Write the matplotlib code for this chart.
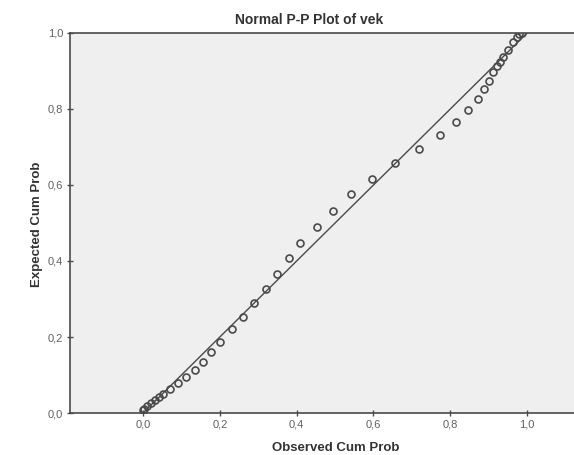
import matplotlib.pyplot as plt
from matplotlib.ticker import FuncFormatter

plt.rcParams['font.family'] = ['Liberation Sans', 'DejaVu Sans']

# Observed vs expected cumulative probabilities
observed = [0.000, 0.003, 0.010, 0.021, 0.031, 0.042, 0.052, 0.070, 0.091,
            0.112, 0.135, 0.156, 0.177, 0.201, 0.232, 0.260, 0.289, 0.320,
            0.349, 0.380, 0.409, 0.453, 0.495, 0.542, 0.596, 0.656, 0.719,
            0.773, 0.815, 0.846, 0.872, 0.888, 0.901, 0.911, 0.922, 0.930,
            0.938, 0.951, 0.964, 0.974, 0.980, 0.987]
expected = [0.008, 0.011, 0.018, 0.026, 0.034, 0.042, 0.050, 0.063, 0.079,
            0.095, 0.113, 0.134, 0.160, 0.187, 0.221, 0.253, 0.289, 0.326,
            0.366, 0.408, 0.447, 0.489, 0.532, 0.576, 0.616, 0.658, 0.695,
            0.732, 0.766, 0.797, 0.826, 0.853, 0.874, 0.897, 0.913, 0.924,
            0.937, 0.955, 0.976, 0.990, 0.997, 1.000]
ticks = [0.0, 0.2, 0.4, 0.6, 0.8, 1.0]

fig = plt.figure(figsize=(5.74, 4.55), dpi=100, facecolor='white')
ax = fig.add_axes([0.122, 0.0923, 0.878, 0.8352])
ax.set_facecolor('#efefef')

gray = '#4a4a4a'

# reference diagonal
ax.plot([0, 1], [0, 1], color=gray, linewidth=1.0, zorder=2)
ax.plot(observed, expected, linestyle='none', marker='o', markersize=5,
        markerfacecolor='none', markeredgecolor=gray, markeredgewidth=1.2,
        zorder=3)

ax.set_xlim(-0.19, 1.122)
ax.set_ylim(0, 1.0)
ax.set_xticks(ticks)
ax.set_yticks(ticks)
comma = FuncFormatter(lambda v, p: f'{v:.1f}'.replace('.', ','))
ax.xaxis.set_major_formatter(comma)
ax.yaxis.set_major_formatter(comma)
ax.tick_params(direction='inout', length=4, width=1, color=gray,
               labelsize=8, labelcolor='#606060', pad=3)

for side in ['left', 'top', 'bottom']:
    ax.spines[side].set_color(gray)
    ax.spines[side].set_linewidth(1.2)
ax.spines['right'].set_visible(False)

fig.text(0.538, 0.956, 'Normal P-P Plot of vek', ha='center', va='center',
         fontsize=10, fontweight='bold', color='#333333')
fig.text(0.584, 0.016, 'Observed Cum Prob', ha='center', va='center',
         fontsize=9.5, fontweight='bold', color='#333333')
fig.text(0.064, 0.508, 'Expected Cum Prob', ha='center', va='center',
         rotation=90, fontsize=9.5, fontweight='bold', color='#333333')

plt.savefig('out.png', dpi=100, facecolor='white')
plt.close()
